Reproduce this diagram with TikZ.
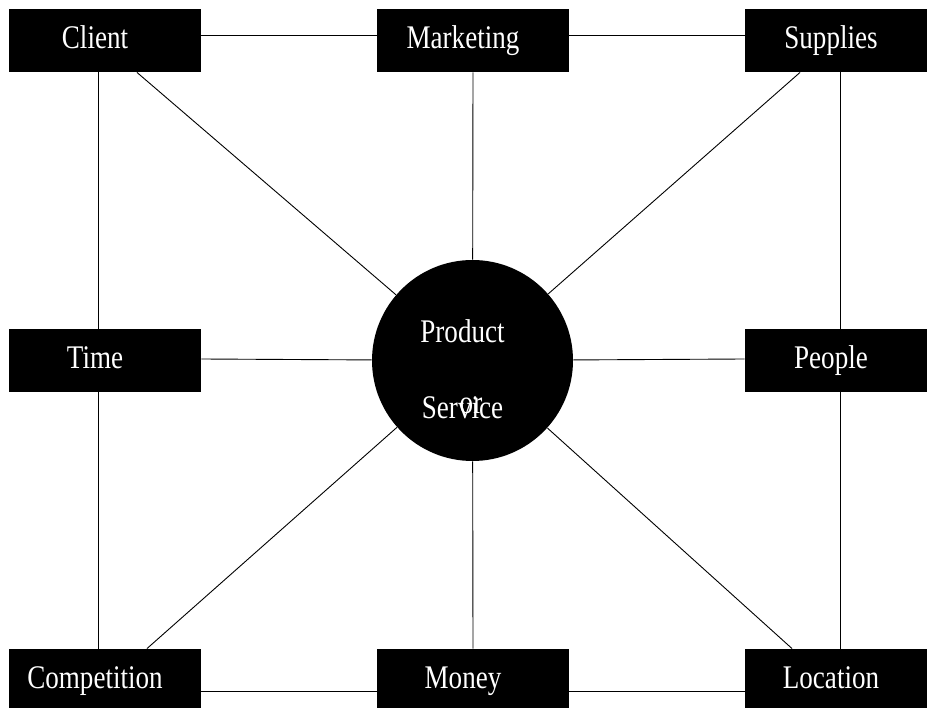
\documentclass[tikz,border=0pt]{standalone}
\usepackage{fontspec}
\newfontfamily\boxfont[FakeStretch=0.82]{Liberation Serif}

\tikzset{topic/.style = {fill=black, minimum width=192pt, minimum height=63pt, inner sep=0pt}}

\begin{document}
\begin{tikzpicture}[x=1pt, y=-1pt, line width=0.9pt]
    % Define node styles
    \tikzstyle{tag} = [text=white, font=\boxfont\fontsize{33}{36}\selectfont, text height=22.5pt, text depth=7.3pt, inner sep=0pt]
    \tikzstyle{core} = [circle, fill=black, minimum size=201pt, inner sep=0pt]

    \useasboundingbox (0,0) rectangle (927,708);
    \clip (0,0) rectangle (927,708);

    % Top row
    \node[topic, label={[tag, xshift=-10pt]center:Client}] (client) at (105,40.5) {};
    \node[topic, label={[tag, xshift=-10pt]center:Marketing}] (mkt) at (473,40.5) {};
    \node[topic, label={[tag, xshift=-10pt]center:Supplies}] (sup) at (841,40.5) {};

    % Middle row
    \node[topic, label={[tag, xshift=-10pt]center:Time}] (time) at (105,360.5) {};
    \node[core, label={[tag, xshift=-10pt, yshift=26pt]center:Product},
                label={[tag, xshift=-10pt, yshift=-50pt]center:Service},
                label={[tag, xshift=-1.5pt, yshift=-45pt]center:or}] (prod) at (472.5,360.5) {};
    \node[topic, label={[tag, xshift=-10pt]center:People}] (ppl) at (841,360.5) {};

    % Bottom row
    \node[topic, label={[tag, xshift=-10pt]center:Competition}] (comp) at (105,680.5) {};
    \node[topic, label={[tag, xshift=-10pt]center:Money}] (money) at (473,680.5) {};
    \node[topic, label={[tag, xshift=-10pt]center:Location}] (loc) at (841,680.5) {};

    % Outer frame
    \draw ([yshift=5.5pt]client.east) -- ([yshift=5.5pt]mkt.west);
    \draw ([yshift=5.5pt]mkt.east) -- ([yshift=5.5pt]sup.west);
    \draw ([yshift=-10.5pt]comp.east) -- ([yshift=-10.5pt]money.west);
    \draw ([yshift=-10.5pt]money.east) -- ([yshift=-10.5pt]loc.west);
    \draw ([xshift=-7pt]client.south) -- ([xshift=-7pt]time.north);
    \draw ([xshift=-7pt]time.south) -- ([xshift=-7pt]comp.north);
    \draw ([xshift=-1pt]sup.south) -- ([xshift=-1pt]ppl.north);
    \draw ([xshift=-1pt]ppl.south) -- ([xshift=-1pt]loc.north);

    % Spokes to the centre
    \draw ([xshift=32pt]client.south) -- (prod);
    \draw (mkt.south) -- (prod);
    \draw ([xshift=-41pt]sup.south) -- (prod);
    \draw ([yshift=1.5pt]time.east) -- (prod);
    \draw (prod) -- ([yshift=1.5pt]ppl.west);
    \draw ([xshift=42pt]comp.north) -- (prod);
    \draw (prod) -- (money.north);
    \draw (prod) -- ([xshift=-49pt]loc.north);

\end{tikzpicture}
\end{document}
